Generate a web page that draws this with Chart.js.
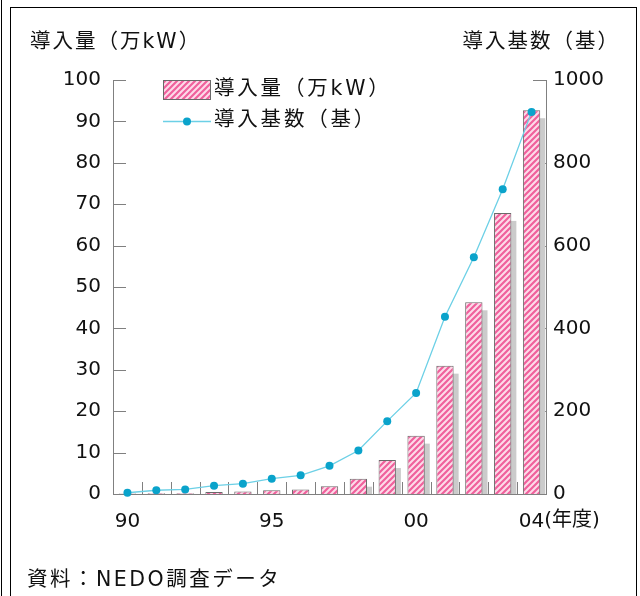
<!DOCTYPE html>
<html lang="ja">
<head>
<meta charset="utf-8">
<title>風力発電 導入量と導入基数</title>
<script src="https://cdn.jsdelivr.net/npm/chart.js@4.4.1/dist/chart.umd.min.js"></script>
<style>
  html, body { margin: 0; padding: 0; background: #fff; }
  body { width: 640px; height: 596px; position: relative; overflow: hidden;
         font-family: "DejaVu Sans", "Noto Sans CJK JP", sans-serif; color: #111; }
  #edge { position: absolute; left: 1px; top: 0; width: 1px; height: 596px; background: #000; }
  #frame { position: absolute; left: 10px; top: 7px; width: 625px; height: 640px; border: 1px solid #000; }
  #wrap { position: absolute; left: 0; top: 0; width: 640px; height: 596px; }
  #source { position: absolute; left: 27px; top: 562px; font-size: 20.5px; letter-spacing: 2.5px; }
</style>
</head>
<body>
<div id="edge"></div>
<div id="frame"></div>
<div id="wrap"><canvas id="chart" width="640" height="596"></canvas></div>
<div id="source">資料：NEDO調査データ</div>

<script>
// 年度別 風力発電の導入量（万kW）と導入基数（基）
const years = ['1990', '1991', '1992', '1993', '1994', '1995', '1996', '1997',
               '1998', '1999', '2000', '2001', '2002', '2003', '2004'];
const capacity = [0.1, 0.2, 0.2, 0.5, 0.6, 0.9, 1.1, 1.9, 3.7, 8.2, 14.1, 31.0, 46.3, 67.9, 92.7];
const units = [3, 9, 11, 20, 25, 37, 45, 68, 105, 176, 244, 428, 572, 736, 923];
const xTickLabels = ['90', '', '', '', '', '95', '', '', '', '', '00', '', '', '', '04'];

const FONT = '"DejaVu Sans", "Noto Sans CJK JP", sans-serif';
const AXIS = '#808080';
const LINE = '#6cd0e6';
const DOT = '#0aa3cb';

// 斜線ハッチング（ピンク）
function hatch() {
  const c = document.createElement('canvas');
  c.width = 6; c.height = 6;
  const g = c.getContext('2d');
  g.fillStyle = '#fddbe9';
  g.fillRect(0, 0, 6, 6);
  g.strokeStyle = '#f0609c';
  g.lineWidth = 2.2;
  g.beginPath();
  g.moveTo(-1, 7); g.lineTo(7, -1);
  g.moveTo(-4, 4); g.lineTo(4, -4);
  g.moveTo(2, 10); g.lineTo(10, 2);
  g.stroke();
  return g.createPattern(c, 'repeat');
}
const barFill = hatch();

// 棒の右下のグレーの影
const barShadow = {
  id: 'barShadow',
  beforeDatasetDraw(chart, args) {
    if (args.meta.type !== 'bar') return;
    const { ctx, chartArea: a } = chart;
    ctx.save();
    ctx.beginPath();
    ctx.rect(a.left, a.top, a.width, a.height);
    ctx.clip();
    ctx.fillStyle = '#cbcbcb';
    args.meta.data.forEach(bar => {
      const { x, y, base, width } = bar.getProps(['x', 'y', 'base', 'width'], true);
      const h = base - y - 8;
      if (h > 0) ctx.fillRect(x - width / 2 + 5, y + 8, width, h);
    });
    ctx.restore();
  }
};

// 内向きの目盛り
const innerTicks = {
  id: 'innerTicks',
  beforeDatasetsDraw(chart) {
    const { ctx, chartArea: a, scales: { x, yL, yR } } = chart;
    ctx.save();
    ctx.strokeStyle = AXIS;
    ctx.lineWidth = 1;
    ctx.beginPath();
    yL.ticks.forEach(t => {
      const y = Math.round(yL.getPixelForValue(t.value)) + 0.5;
      ctx.moveTo(a.left, y); ctx.lineTo(a.left + 13, y);
    });
    yR.ticks.forEach(t => {
      const y = Math.round(yR.getPixelForValue(t.value)) + 0.5;
      ctx.moveTo(a.right - 13, y); ctx.lineTo(a.right, y);
    });
    for (let i = 1; i < years.length; i++) {
      const xx = Math.round((x.getPixelForValue(i - 1) + x.getPixelForValue(i)) / 2) + 0.5;
      ctx.moveTo(xx, a.bottom); ctx.lineTo(xx, a.bottom - 12);
    }
    ctx.stroke();
    ctx.restore();
  }
};

// 軸タイトル・凡例・「(年度)」
const labels = {
  id: 'labels',
  afterDraw(chart) {
    const { ctx, scales: { x } } = chart;
    const bar = chart.data.datasets[0];
    const line = chart.data.datasets[1];
    ctx.save();
    ctx.fillStyle = '#111';
    ctx.textBaseline = 'middle';

    // (年度) は最終年の目盛りラベルの右
    ctx.font = '20px ' + FONT;
    ctx.textAlign = 'left';
    const last = x.getPixelForValue(years.length - 1);
    const w = ctx.measureText(xTickLabels[years.length - 1]).width;
    ctx.fillText('(年度)', last + w / 2, 521);

    ctx.font = '20.5px ' + FONT;
    ctx.letterSpacing = '2px';
    ctx.fillText('導入量（万kW）', 30, 43);
    ctx.textAlign = 'right';
    ctx.fillText('導入基数（基）', 620, 43);

    // 凡例
    ctx.textAlign = 'left';
    ctx.letterSpacing = '2.8px';
    ctx.fillStyle = bar.backgroundColor;
    ctx.fillRect(163, 80, 48, 20);
    ctx.strokeStyle = bar.borderColor;
    ctx.lineWidth = 1;
    ctx.strokeRect(163.5, 80.5, 47, 19);
    ctx.fillStyle = '#111';
    ctx.fillText(bar.label, 214, 90);

    ctx.strokeStyle = line.borderColor;
    ctx.lineWidth = line.borderWidth;
    ctx.beginPath();
    ctx.moveTo(163, 121.5); ctx.lineTo(211, 121.5);
    ctx.stroke();
    ctx.fillStyle = line.pointBackgroundColor;
    ctx.beginPath();
    ctx.arc(187, 121.5, line.pointRadius, 0, Math.PI * 2);
    ctx.fill();
    ctx.fillStyle = '#111';
    ctx.fillText(line.label, 214, 121);
    ctx.restore();
  }
};

Chart.defaults.font.family = FONT;
Chart.defaults.font.size = 20;
Chart.defaults.color = '#111';

new Chart(document.getElementById('chart'), {
  data: {
    labels: years,
    datasets: [
      {
        type: 'bar',
        label: '導入量（万kW）',
        data: capacity,
        yAxisID: 'yL',
        backgroundColor: barFill,
        borderColor: '#6a6a6a',
        borderWidth: 1,
        barPercentage: 0.6,
        categoryPercentage: 1,
        order: 2
      },
      {
        type: 'line',
        label: '導入基数（基）',
        data: units,
        yAxisID: 'yR',
        borderColor: LINE,
        borderWidth: 1.3,
        pointBackgroundColor: DOT,
        pointBorderColor: DOT,
        pointRadius: 4,
        pointBorderWidth: 0,
        tension: 0,
        clip: false,
        order: 1
      }
    ]
  },
  options: {
    responsive: false,
    animation: false,
    layout: { padding: { top: 80, left: 0, right: 0, bottom: 0 } },
    plugins: { legend: { display: false }, tooltip: { enabled: false } },
    scales: {
      x: {
        type: 'category',
        offset: true,
        grid: { display: false, drawTicks: false },
        border: { color: AXIS },
        ticks: {
          autoSkip: false,
          maxRotation: 0,
          padding: 16,
          callback: (v, i) => xTickLabels[i]
        },
        afterFit: s => { s.height = 102; }
      },
      yL: {
        position: 'left',
        min: 0,
        max: 100,
        grid: { display: false, drawTicks: false },
        border: { color: AXIS },
        ticks: { stepSize: 10, padding: 12 },
        afterFit: s => { s.width = 113; }
      },
      yR: {
        position: 'right',
        min: 0,
        max: 1000,
        grid: { display: false, drawTicks: false },
        border: { color: AXIS },
        ticks: { stepSize: 200, padding: 7, callback: v => String(v) },
        afterFit: s => { s.width = 94; }
      }
    }
  },
  plugins: [barShadow, innerTicks, labels]
});
</script>
</body>
</html>
